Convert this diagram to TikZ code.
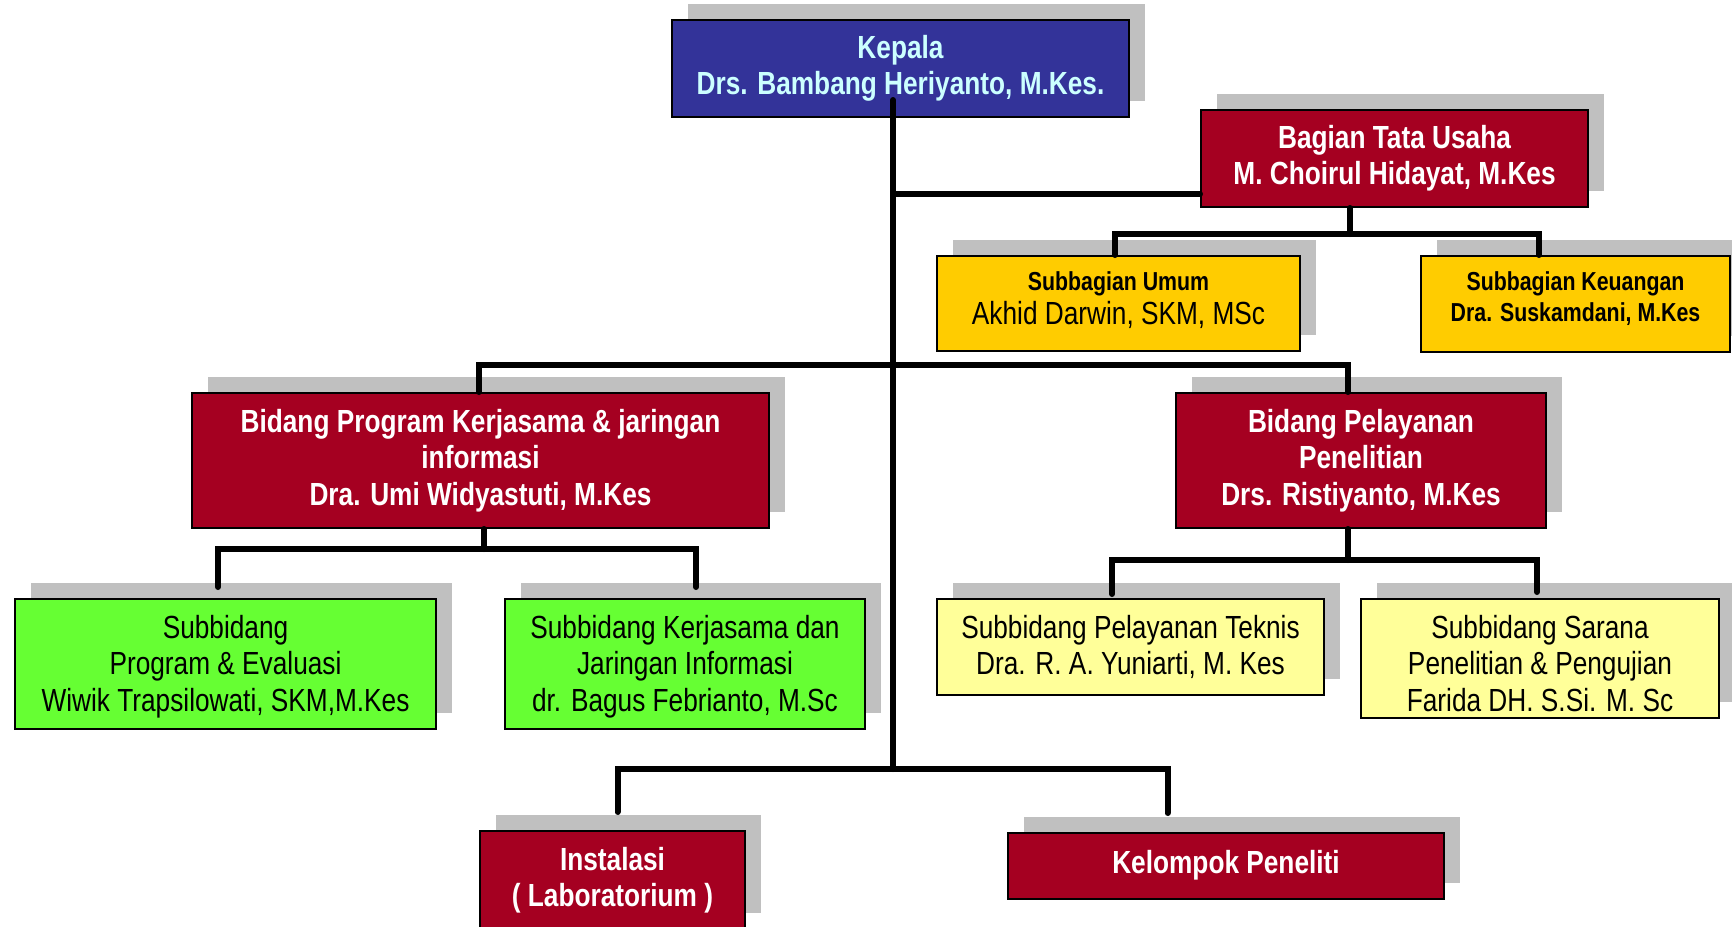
\documentclass[tikz,border=0pt]{standalone}
\usepackage{fontspec}
\setmainfont{Liberation Sans}[FakeStretch=0.82]
\usetikzlibrary{shadows}
\definecolor{kblue}{HTML}{333399}
\definecolor{ktext}{HTML}{CCFFFF}
\definecolor{dred}{HTML}{A50021}
\definecolor{gold}{HTML}{FFCC00}
\definecolor{lgreen}{HTML}{66FF33}
\definecolor{lyellow}{HTML}{FFFF99}
\definecolor{shgray}{HTML}{C0C0C0}
\newcommand{\rtext}[2]{\raisebox{#1}[\height][\depth]{\begin{tabular}{@{}c@{}}#2\end{tabular}}}
\tikzset{
  box/.style={draw=black, line width=1pt, inner sep=1pt, align=center,
    drop shadow={opacity=1, fill=shgray, shadow xshift=8pt, shadow yshift=8pt}},
  bigbold/.style={font=\fontsize{16}{18.2}\selectfont\bfseries},
  bigreg/.style={font=\fontsize{16}{18.2}\selectfont},
  redbox/.style={box, fill=dred, text=white, bigbold},
  conn/.style={line width=3pt, line cap=round, line join=miter}
}
\begin{document}
\begin{tikzpicture}[x=0.5pt,y=-0.5pt]
\useasboundingbox (0,0) rectangle (1732,926);
\clip (0,0) rectangle (1732,926);
% nodes
\node[box, fill=kblue, text=ktext, bigbold, minimum width=228.5pt, minimum height=48.5pt] (kepala) at (900.5,68.5) {Kepala\\Drs. Bambang Heriyanto, M.Kes.};
\node[redbox, minimum width=193.5pt, minimum height=48.5pt] (tu) at (1394.5,158.5) {Bagian Tata Usaha\\M. Choirul Hidayat, M.Kes};
\node[box, fill=gold, font=\fontsize{16}{17}\selectfont, minimum width=181.5pt, minimum height=47.5pt] (umum) at (1118.5,303.5) {\rtext{1.2pt}{{\fontsize{13}{17}\selectfont\bfseries Subbagian Umum}\\Akhid Darwin, SKM, MSc}};
\node[box, fill=gold, font=\fontsize{13}{15.5}\selectfont\bfseries, minimum width=154.5pt, minimum height=48pt] (keu) at (1575.5,304) {\rtext{2.1pt}{Subbagian Keuangan\\Dra. Suskamdani, M.Kes}};
\node[redbox, minimum width=288.5pt, minimum height=67.5pt] (bp) at (480.5,460.5) {Bidang Program Kerjasama \& jaringan\\informasi\\Dra. Umi Widyastuti, M.Kes};
\node[redbox, minimum width=185pt, minimum height=67.5pt] (bpel) at (1361,460.5) {Bidang Pelayanan\\Penelitian\\Drs. Ristiyanto, M.Kes};
\node[box, fill=lgreen, bigreg, minimum width=210.5pt, minimum height=65pt] (sbprog) at (225.5,664) {\rtext{-1.8pt}{Subbidang\\Program \& Evaluasi\\Wiwik Trapsilowati, SKM,M.Kes}};
\node[box, fill=lgreen, bigreg, minimum width=180pt, minimum height=65pt] (sbker) at (685,664) {\rtext{-1.8pt}{Subbidang Kerjasama dan\\Jaringan Informasi\\dr. Bagus Febrianto, M.Sc}};
\node[box, fill=lyellow, bigreg, minimum width=193.5pt, minimum height=48pt] (sbtek) at (1130.5,647) {Subbidang Pelayanan Teknis\\Dra. R. A. Yuniarti, M. Kes};
\node[box, fill=lyellow, bigreg, minimum width=179pt, minimum height=59.5pt] (sbsar) at (1540,658.5) {\rtext{-4.5pt}{Subbidang Sarana\\Penelitian \& Pengujian\\Farida DH. S.Si. M. Sc}};
\node[redbox, minimum width=132.5pt, minimum height=49pt] (inst) at (612.5,880) {Instalasi\\( Laboratorium )};
\node[redbox, minimum width=218pt, minimum height=33pt] (kel) at (1226,865.5) {Kelompok Peneliti};
% coordinates
\coordinate (trunkTop) at (893,100);
\coordinate (trunkBot) at (893,769);
\coordinate (j1) at (893,194);
\coordinate (tuD) at (1350,234);
\coordinate (b1L) at (1115,234);
\coordinate (b1R) at (1539,234);
\coordinate (b2L) at (479,364.5);
\coordinate (b2R) at (1348,364.5);
\coordinate (bpD) at (484,549);
\coordinate (b3L) at (218,549);
\coordinate (b3R) at (696,549);
\coordinate (e3L) at (218,587);
\coordinate (e3R) at (696,587);
\coordinate (bpelD) at (1348,560);
\coordinate (b4L) at (1112,560);
\coordinate (b4R) at (1537,560);
\coordinate (e4L) at (1112,594);
\coordinate (e4R) at (1537,592);
\coordinate (b5L) at (617.5,769);
\coordinate (b5R) at (1167.5,769);
\coordinate (e5L) at (617.5,812);
\coordinate (e5R) at (1167.5,813);
% connectors
\draw[conn] (trunkTop) -- (trunkBot);
\draw[conn] (j1) -- (j1 -| tu.west);
\draw[conn] (tuD |- tu.south) -- (tuD);
\draw[conn] (b1L |- umum.north) -- (b1L) -- (b1R) -- (b1R |- keu.north);
\draw[conn] (b2L |- bp.north) -- (b2L) -- (b2R) -- (b2R |- bpel.north);
\draw[conn] (bpD |- bp.south) -- (bpD);
\draw[conn] (e3L) -- (b3L) -- (b3R) -- (e3R);
\draw[conn] (bpelD |- bpel.south) -- (bpelD);
\draw[conn] (e4L) -- (b4L) -- (b4R) -- (e4R);
\draw[conn] (e5L) -- (b5L) -- (b5R) -- (e5R);
\end{tikzpicture}
\end{document}
